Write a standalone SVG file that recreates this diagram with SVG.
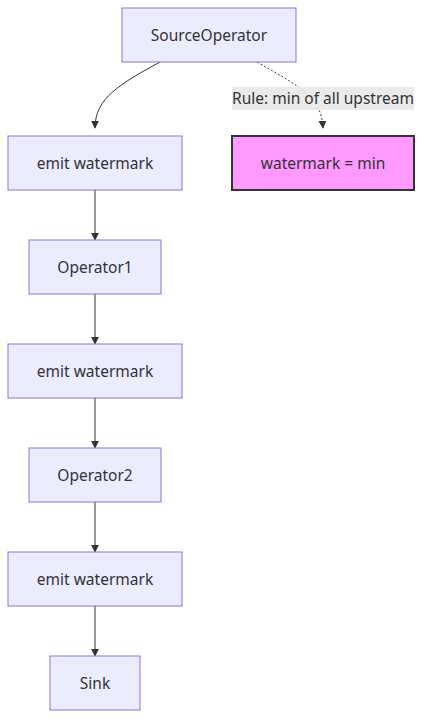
<svg xmlns="http://www.w3.org/2000/svg" width="422" height="718" viewBox="0 0 422 718">
<defs>
<marker id="arr" viewBox="0 0 10 10" refX="9" refY="5" markerWidth="8" markerHeight="8" markerUnits="userSpaceOnUse" orient="auto">
<path d="M0,0 L10,5 L0,10 z" fill="#333"/>
</marker>
</defs>
<style>
.node rect{fill:#ECECFF;stroke:#9370DB;stroke-width:1}
.hl rect{fill:#ff99ff;stroke:#333;stroke-width:2}
text{font-family:"Noto Sans","Open Sans",sans-serif;font-size:15.5px;fill:#333;text-anchor:middle;dominant-baseline:central}
.edge{fill:none;stroke:#333;stroke-width:1}
.dot{stroke-dasharray:2,2}
</style>
<rect width="422" height="718" fill="#fff"/>
<g id="connectors">
<path class="edge" d="M160,62 C120,84 95,98 95,128" marker-end="url(#arr)"/>
<path class="edge dot" d="M257,62 C285,78 300,86 310,98 C320,108 322,115 323,128" marker-end="url(#arr)"/>
<path class="edge" d="M95,190 L95,240" marker-end="url(#arr)"/>
<path class="edge" d="M95,294 L95,344" marker-end="url(#arr)"/>
<path class="edge" d="M95,398 L95,448" marker-end="url(#arr)"/>
<path class="edge" d="M95,502 L95,552" marker-end="url(#arr)"/>
<path class="edge" d="M95,606 L95,656" marker-end="url(#arr)"/>
<g id="edge-label">
<rect x="232" y="87" width="182" height="23" fill="#e8e8e8" opacity="0.9"/>
<text x="323" y="98">Rule: min of all upstream</text>
</g>
</g>
<g id="SourceOperator" class="node"><rect x="122" y="8" width="174" height="54"/><text x="209" y="34.5">SourceOperator</text></g>
<g id="emit1" class="node"><rect x="8" y="136" width="174" height="54"/><text x="95" y="162.5">emit watermark</text></g>
<g id="minNode" class="hl"><rect x="232" y="136" width="182" height="54"/><text x="323" y="162.5">watermark = min</text></g>
<g id="Operator1" class="node"><rect x="29" y="240" width="132" height="54"/><text x="95" y="266.5">Operator1</text></g>
<g id="emit2" class="node"><rect x="8" y="344" width="174" height="54"/><text x="95" y="370.5">emit watermark</text></g>
<g id="Operator2" class="node"><rect x="29" y="448" width="132" height="54"/><text x="95" y="474.5">Operator2</text></g>
<g id="emit3" class="node"><rect x="8" y="552" width="174" height="54"/><text x="95" y="578.5">emit watermark</text></g>
<g id="Sink" class="node"><rect x="50" y="656" width="90" height="54"/><text x="95" y="682.5">Sink</text></g>
</svg>
